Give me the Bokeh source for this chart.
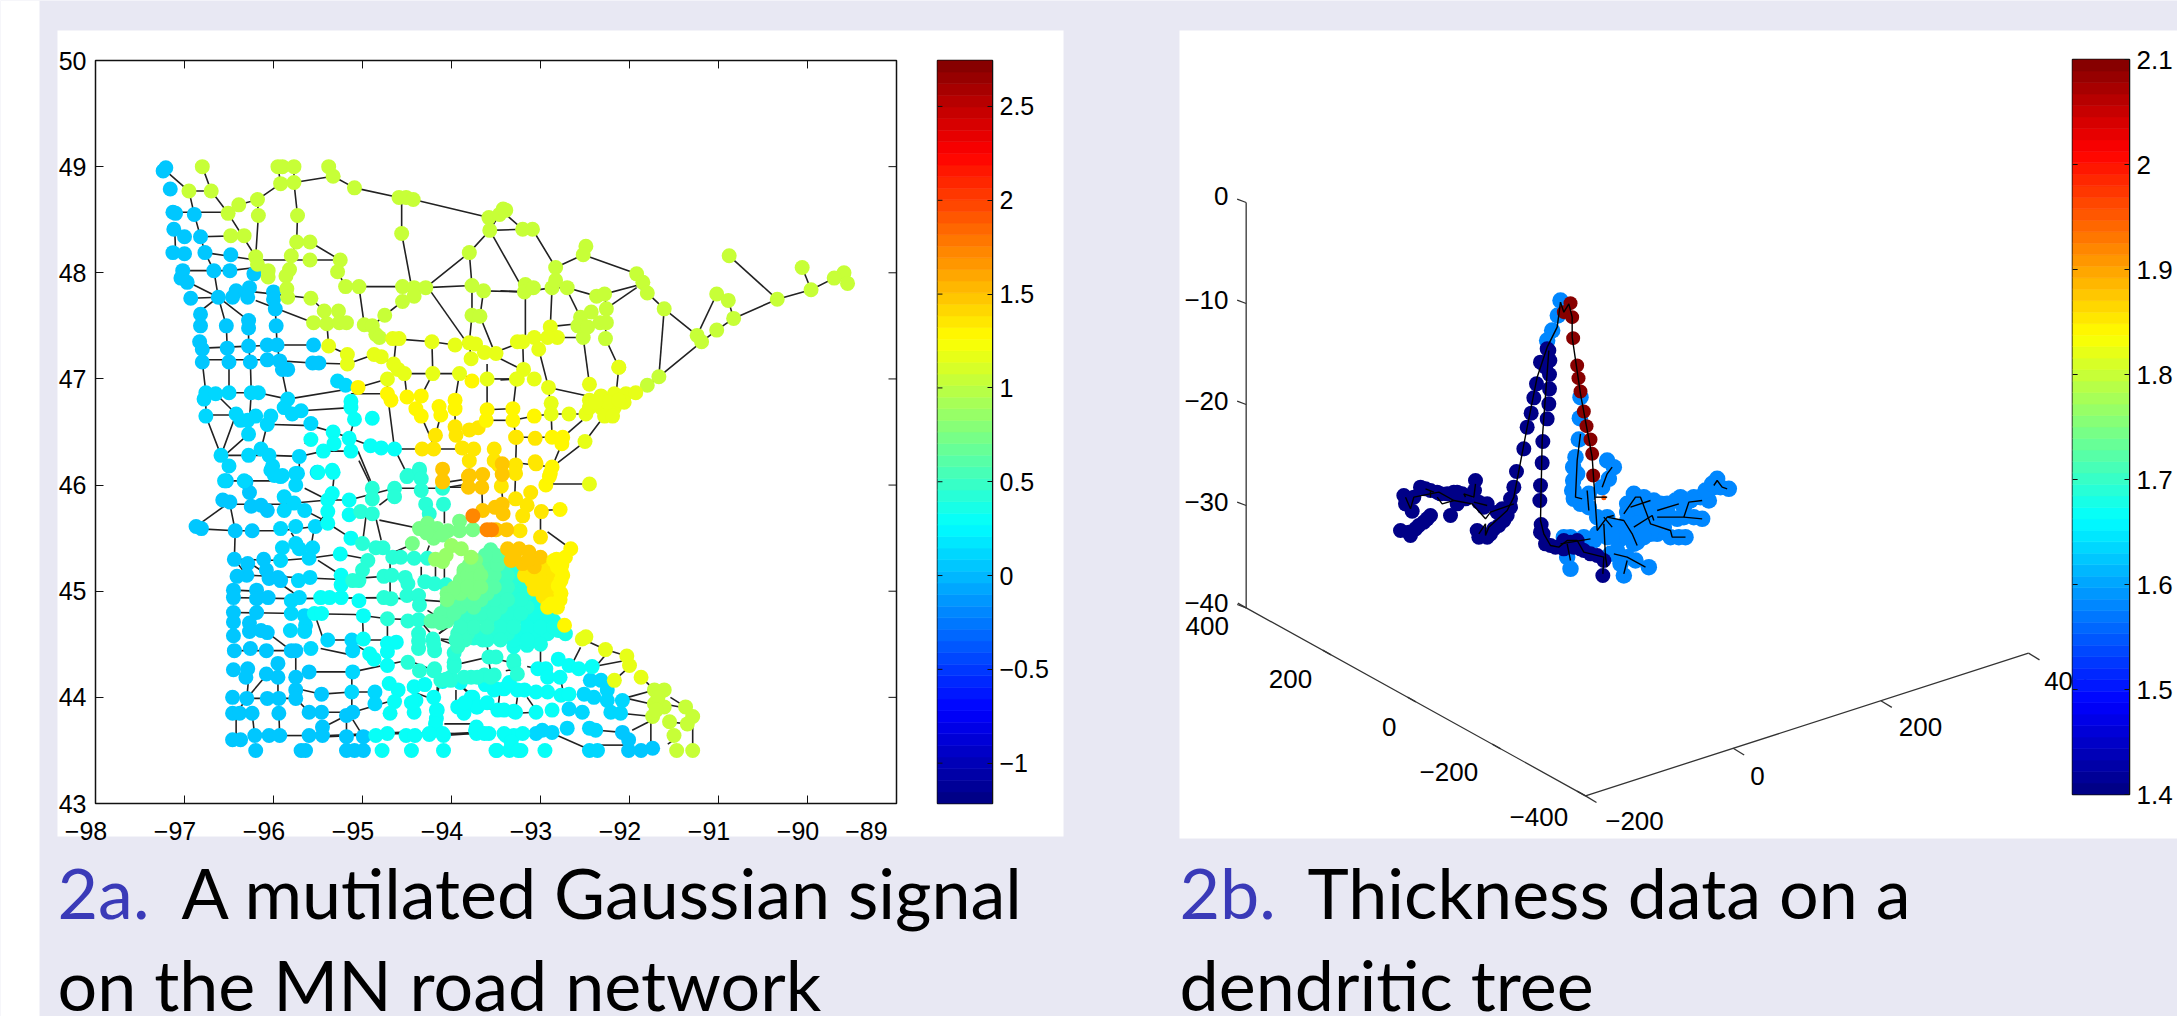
from bokeh.plotting import figure
from bokeh.embed import file_html
from bokeh.resources import INLINE
from bokeh.layouts import column
from bokeh.models import Range1d, FixedTicker
from bokeh.core.properties import value
import numpy as np

# ---------- panel a : tick labels and scales ----------
lon_ticks = [-98, -97, -96, -95, -94, -93, -92, -91, -90, -89]
lon_labels = ["−98", "−97", "−96", "−95", "−94", "−93", "−92", "−91", "−90", "−89"]
lat_ticks = [43, 44, 45, 46, 47, 48, 49, 50]
cb_a_ticks = [-1, -0.5, 0, 0.5, 1, 1.5, 2, 2.5]
cb_a_labels = ["−1", "−0.5", "0", "0.5", "1", "1.5", "2", "2.5"]
cb_a_low, cb_a_high = -1.215, 2.745

# ---------- panel a : nodes (lon, lat), grouped by signal value ----------
n_blue = [(-97.21,48.99),(-97.24,48.96),(-97.16,48.79),(-97.13,48.57),(-97.10,48.56),(-96.89,48.55),(-97.12,48.41),(-97.0,48.34),(-96.82,48.34),(-97.13,48.19),(-97.0,48.18),(-96.77,48.19),(-96.48,48.17),(-97.02,48.02),(-96.67,48.02),(-96.49,48.02),(-97.04,47.95),(-96.97,47.91),(-96.93,47.76),(-96.62,47.77),(-96.42,47.83),(-96.27,47.86),(-96.22,47.99),(-96.29,47.77),(-96.46,47.77),(-96.0,47.82),(-96.0,47.75),(-95.98,47.66),(-96.82,47.61),(-96.82,47.50),(-96.53,47.5),(-96.28,47.55),(-96.28,47.48),(-95.97,47.5),(-96.83,47.35),(-96.8,47.28),(-96.52,47.29),(-96.28,47.31),(-96.07,47.32),(-95.96,47.32),(-95.55,47.32),(-96.8,47.16),(-96.5,47.16),(-96.26,47.16),(-96.07,47.18),(-95.93,47.17),(-95.9,47.09),(-95.84,47.09),(-95.56,47.15),(-95.49,47.15),(-96.53,46.04),(-96.31,46.03),(-96.27,45.93),(-96.57,45.86),(-96.49,45.84),(-96.25,45.8),(-96.14,45.81),(-96.07,45.76),(-96.87,45.61),(-96.81,45.59),(-96.43,45.57),(-96.24,45.57),(-96.44,45.3),(-96.29,45.26),(-96.3,45.15),(-96.41,45.14),(-96.11,45.3),(-96.08,45.2),(-96.05,45.12),(-95.95,45.13),(-95.92,45.1),(-96.45,45.01),(-96.45,44.94),(-96.19,45.01),(-96.19,44.93),(-96.06,44.94),(-96.45,44.8),(-96.45,44.71),(-96.19,44.8),(-96.27,44.7),(-96.27,44.62),(-96.14,44.63),(-96.07,44.61),(-96.45,44.58),(-96.44,44.44),(-96.26,44.46),(-96.08,44.44),(-96.45,44.26),(-96.29,44.27),(-96.31,44.19),(-96.08,44.22),(-95.95,44.32),(-95.95,44.19),(-96.46,44.0),(-96.3,43.99),(-96.07,43.99),(-95.94,43.99),(-95.75,44.19),(-95.75,44.07),(-95.75,43.99),(-96.46,43.85),(-96.38,43.85),(-96.24,43.85),(-95.94,43.85),(-96.46,43.6),(-96.37,43.6),(-96.21,43.64),(-96.05,43.64),(-95.93,43.64),(-96.2,43.5),(-95.69,43.5),(-95.64,43.5),(-95.6,43.86),(-95.46,43.86),(-95.46,44.03),(-95.6,44.24),(-95.8,44.44),(-95.75,44.44),(-95.6,43.64),(-95.45,43.64),(-95.45,43.72),(-95.18,43.83),(-95.11,43.86),(-95.18,43.63),(-95.18,43.5),(-95.09,43.5),(-94.99,43.5),(-94.99,43.63),(-92.01,43.6),(-92.01,43.5),(-91.87,43.5),(-91.74,43.52),(-92.08,43.67)]
n_sky = [(-95.28,46.98),(-95.19,46.94),(-96.76,46.87),(-96.78,46.81),(-96.65,46.86),(-96.5,46.87),(-96.25,46.87),(-96.17,46.87),(-95.84,46.81),(-95.88,46.73),(-95.79,46.67),(-95.69,46.7),(-95.58,46.58),(-96.76,46.65),(-96.42,46.67),(-96.37,46.61),(-96.29,46.61),(-96.2,46.65),(-96.03,46.65),(-96.07,46.57),(-96.28,46.48),(-96.59,46.28),(-96.5,46.18),(-96.28,46.28),(-96.14,46.34),(-96.05,46.28),(-96.01,46.18),(-95.71,46.27),(-95.99,46.09),(-95.9,46.09),(-95.73,46.11),(-96.55,46.04),(-96.33,46.04),(-96.03,46.14),(-95.92,46.08),(-95.75,46.11),(-95.75,46.0),(-95.88,45.89),(-95.77,45.83),(-95.88,45.76),(-95.65,45.76),(-95.92,45.59),(-95.75,45.61),(-95.53,45.61),(-95.9,45.41),(-95.75,45.45),(-95.71,45.4),(-95.56,45.41),(-95.6,45.31),(-95.92,45.29),(-95.72,45.1),(-95.59,45.13),(-95.8,44.91),(-95.71,44.94),(-95.8,44.79),(-95.65,44.77),(-95.64,44.68),(-95.65,44.62),(-95.81,44.63),(-95.58,44.46),(-95.11,44.24),(-95.12,44.05),(-94.86,44.05),(-94.86,43.94),(-95.11,44.44),(-95.12,44.54),(-95.39,44.54),(-95.51,46.12),(-92.44,44.16),(-92.32,44.16),(-92.25,44.07),(-92.51,44.03),(-92.4,44.0),(-92.25,43.97),(-92.08,43.97),(-92.53,43.86),(-92.21,43.86),(-92.1,43.85),(-92.68,43.89),(-92.7,43.71),(-92.45,43.71),(-92.38,43.69),(-92.45,43.5),(-92.36,43.5),(-93.05,43.66),(-92.98,43.69),(-92.87,43.67)]
n_cyan = [(-95.13,46.79),(-95.13,46.73),(-95.09,46.62),(-94.89,46.63),(-95.33,46.5),(-95.58,46.43),(-95.32,46.39),(-95.44,46.32),(-95.13,46.32),(-95.15,46.44),(-94.91,46.37),(-94.79,46.35),(-94.64,46.34),(-95.5,46.12),(-95.33,46.12),(-95.34,46.14),(-95.39,45.86),(-95.34,45.92),(-95.39,45.75),(-95.39,45.64),(-95.15,45.86),(-95.15,45.72),(-95.13,45.5),(-95.47,44.94),(-95.37,44.94),(-95.24,44.94),(-95.54,44.79),(-95.46,44.79),(-95.25,45.35),(-95.24,45.15),(-95.24,45.06),(-94.99,44.77),(-95.04,44.91),(-94.99,44.55),(-94.92,44.41),(-94.87,44.36),(-94.72,44.51),(-94.62,44.52),(-94.72,44.43),(-94.72,44.3),(-94.7,44.13),(-94.6,44.07),(-94.64,43.96),(-94.69,43.85),(-94.42,44.1),(-94.4,43.97),(-94.42,43.86),(-94.17,43.88),(-94.17,43.8),(-94.72,43.66),(-94.85,43.64),(-94.51,43.64),(-94.41,43.64),(-94.25,43.65),(-94.09,43.64),(-94.78,43.5),(-94.45,43.5),(-94.09,43.5),(-93.72,43.91),(-93.93,43.91),(-93.72,43.72),(-93.72,43.66),(-93.58,43.66),(-93.48,43.88),(-93.3,43.87),(-93.39,43.64),(-93.3,43.64),(-93.49,43.5),(-93.35,43.5),(-93.22,43.5),(-93.78,44.0),(-93.5,44.08),(-93.41,44.08),(-93.26,44.07),(-93.03,44.27),(-92.94,44.27),(-92.92,44.19),(-92.8,44.36),(-92.78,44.19),(-92.68,44.3),(-92.57,44.27),(-92.42,44.29),(-92.92,44.05),(-92.77,44.02),(-92.68,44.03),(-93.05,44.05),(-93.52,44.07),(-93.18,44.07),(-93.41,43.88),(-93.28,43.86),(-93.05,43.86),(-92.87,43.88),(-93.41,43.66),(-93.2,43.66),(-93.33,43.58),(-93.5,43.5),(-93.25,43.5),(-92.95,43.5),(-93.76,44.0),(-93.71,43.91),(-93.86,43.85),(-94.16,43.88),(-94.18,43.75),(-94.1,43.66),(-94.25,43.66),(-93.73,43.69),(-93.63,43.66),(-94.3,44.12),(-94.1,44.15),(-93.9,44.14),(-93.62,44.12),(-93.35,44.14),(-94.45,43.95),(-93.85,43.95),(-93.6,43.95),(-94.2,44.0)]
n_teal = [(-94.49,46.09),(-94.36,46.14),(-94.89,45.97),(-94.89,45.87),(-94.64,45.97),(-94.64,45.89),(-94.5,46.08),(-94.36,46.15),(-94.34,46.06),(-94.34,45.95),(-94.29,45.82),(-94.25,45.73),(-94.09,45.82),(-94.1,45.97),(-95.02,45.75),(-94.89,45.73),(-95.0,45.45),(-94.85,45.41),(-94.77,45.41),(-94.66,45.32),(-94.57,45.32),(-94.94,45.29),(-95.0,45.2),(-95.04,45.1),(-95.11,45.1),(-94.76,45.14),(-94.67,45.15),(-94.52,45.13),(-94.49,45.07),(-94.5,44.96),(-94.37,44.96),(-94.36,44.87),(-94.76,44.94),(-94.68,44.93),(-94.72,44.74),(-94.49,44.72),(-94.37,44.73),(-94.37,44.6),(-94.37,44.46),(-94.21,44.55),(-94.19,44.44),(-94.3,45.09),(-94.19,45.07),(-94.06,45.06),(-94.49,44.33),(-94.36,44.25),(-94.19,44.27),(-94.12,44.16),(-94.01,44.16),(-93.97,44.33),(-93.78,44.19),(-93.63,44.21),(-93.52,44.21),(-93.58,44.38),(-93.3,44.32),(-94.42,45.31),(-94.27,45.31),(-93.5,44.38),(-93.3,44.35),(-93.26,44.22),(-94.01,44.19),(-93.86,44.19),(-93.71,44.19),(-93.56,44.19),(-94.2,44.25),(-93.97,44.29),(-93.97,44.42),(-94.37,44.53),(-94.2,44.5),(-94.06,44.17),(-93.75,44.56),(-93.65,44.54)]
n_green = [(-94.36,45.59),(-94.27,45.64),(-94.16,45.59),(-94.2,45.5),(-94.44,45.45),(-93.91,45.66),(-93.91,45.57),(-93.76,45.58),(-94.04,45.57),(-93.86,45.17),(-93.89,45.04),(-94.0,44.98),(-93.73,45.29),(-93.86,45.2),(-93.71,45.2),(-93.9,45.1),(-93.75,45.1),(-94.05,44.98),(-93.9,44.98),(-93.75,44.98),(-93.82,45.15),(-93.67,45.15),(-93.97,45.03),(-93.82,45.04),(-93.67,45.04),(-94.28,45.55),(-94.1,45.53),(-93.8,45.25),(-94.05,44.92)]
n_lgreen = [(-94.1,45.28),(-94.0,45.43),(-93.89,45.4),(-93.78,45.32),(-94.18,45.3),(-94.06,45.34)]
n_blob60 = [(-93.56,45.39),(-93.56,45.29),(-93.45,45.29),(-93.56,45.2),(-93.6,45.1),(-93.6,44.98),(-94.05,44.85),(-93.9,44.85),(-93.75,44.85),(-94.2,44.72),(-94.05,44.72),(-93.97,44.92),(-93.82,44.92),(-93.67,44.92),(-94.12,44.79),(-93.97,44.79),(-93.52,45.15),(-93.52,45.04),(-93.66,45.25),(-93.48,45.25),(-93.5,45.34),(-93.62,45.34),(-94.23,44.72),(-94.12,44.7)]
n_blob50 = [(-93.41,45.2),(-93.45,45.1),(-93.45,44.98),(-93.6,44.85),(-93.45,44.85),(-93.9,44.72),(-93.75,44.72),(-93.6,44.72),(-93.82,44.6),(-93.93,44.48),(-93.93,44.6),(-93.52,44.92),(-93.82,44.79),(-93.67,44.79),(-93.52,44.79),(-93.37,45.15),(-93.37,45.04),(-93.37,44.92),(-93.85,44.54),(-93.75,44.66),(-93.6,44.66),(-93.9,44.66),(-93.95,44.54)]
n_blob42 = [(-93.3,45.17),(-93.3,45.07),(-93.18,45.04),(-93.3,44.98),(-93.15,44.98),(-93.3,44.85),(-93.15,44.85),(-93.45,44.72),(-93.3,44.72),(-93.67,44.6),(-93.52,44.6),(-93.37,44.6),(-93.22,44.92),(-93.37,44.79),(-93.22,44.79),(-93.45,44.66),(-93.3,44.66),(-93.6,44.54),(-93.45,44.54)]
n_blob34 = [(-93.0,44.85),(-93.15,44.72),(-93.0,44.72),(-92.85,44.72),(-93.22,44.6),(-93.07,44.6),(-92.92,44.6),(-92.8,44.63),(-93.3,44.48),(-93.15,44.49),(-93.0,44.5),(-93.07,44.79),(-92.92,44.79),(-93.15,44.66),(-93.0,44.66),(-93.3,44.54),(-93.15,44.54),(-93.07,44.92),(-92.85,44.66),(-92.72,44.6)]
n_lime = [(-96.8,49.0),(-96.95,48.77),(-96.7,48.77),(-96.51,48.56),(-96.39,48.64),(-96.18,48.69),(-96.17,48.54),(-95.95,49.0),(-95.92,48.84),(-95.9,49.0),(-95.77,49.0),(-95.77,48.85),(-95.73,48.54),(-95.38,49.0),(-95.33,48.91),(-95.09,48.8),(-94.59,48.71),(-94.51,48.71),(-94.43,48.69),(-94.56,48.37),(-96.48,48.35),(-96.33,48.35),(-95.74,48.29),(-95.59,48.29),(-96.2,48.15),(-96.18,48.08),(-95.8,48.16),(-95.59,48.12),(-95.25,48.12),(-95.28,48.01),(-95.82,48.03),(-95.86,47.97),(-96.06,48.02),(-96.06,47.96),(-95.85,47.85),(-95.84,47.77),(-95.58,47.76),(-95.19,47.87),(-95.04,47.87),(-94.55,47.87),(-94.42,47.86),(-94.29,47.86),(-94.42,47.78),(-94.55,47.73),(-94.75,47.6),(-93.77,47.88),(-93.64,47.83),(-93.77,47.6),(-93.68,47.59),(-93.8,48.19),(-93.58,48.52),(-93.57,48.4),(-93.39,48.59),(-93.46,48.55),(-93.42,48.6),(-93.2,48.41),(-93.09,48.41),(-95.43,47.64),(-95.27,47.64),(-95.55,47.53),(-95.4,47.52),(-95.26,47.53),(-95.18,47.53),(-94.98,47.51),(-94.89,47.5),(-94.85,47.42),(-94.81,47.39),(-92.83,48.05),(-92.49,48.25),(-92.52,48.17),(-91.92,47.99),(-91.85,47.91),(-91.8,47.81),(-91.61,47.66),(-90.88,48.16),(-90.06,48.05),(-89.59,48.0),(-89.7,47.95),(-89.55,47.9),(-89.96,47.84),(-90.34,47.75),(-91.02,47.8),(-90.89,47.74),(-90.83,47.57),(-91.02,47.46),(-91.24,47.41),(-91.19,47.35),(-91.67,47.02),(-91.8,46.94),(-93.17,47.89),(-93.18,47.82),(-93.08,47.86),(-92.87,47.86),(-92.83,47.93),(-92.7,47.86),(-92.37,47.78),(-92.28,47.8),(-92.26,47.66),(-92.43,47.63),(-92.55,47.58),(-92.33,47.53),(-92.26,47.53),(-92.27,47.38),(-92.52,47.39),(-92.58,47.5),(-92.47,47.49),(-92.12,47.11),(-91.72,44.07),(-91.61,44.07),(-91.72,43.94),(-91.61,43.91),(-91.74,43.82),(-91.55,43.77),(-91.37,43.91),(-91.29,43.82),(-91.35,43.75),(-91.5,43.64),(-91.47,43.5),(-91.29,43.5),(-91.68,44.0),(-91.7,43.88)]
n_ylime = [(-94.66,47.38),(-94.59,47.38),(-94.22,47.35),(-93.96,47.32),(-93.8,47.34),(-93.73,47.33),(-95.38,47.31),(-95.17,47.23),(-95.17,47.14),(-94.87,47.23),(-94.79,47.21),(-94.65,47.14),(-94.6,47.09),(-94.53,47.05),(-94.72,47.0),(-94.21,47.05),(-93.91,47.05),(-93.6,47.0),(-93.63,47.25),(-93.5,47.24),(-93.78,47.19),(-93.26,47.35),(-93.26,47.0),(-92.89,47.49),(-92.81,47.39),(-92.92,47.39),(-93.07,47.39),(-93.2,47.35),(-93.02,47.28),(-93.19,47.09),(-93.27,47.0),(-93.07,47.0),(-92.91,46.92),(-92.45,46.95),(-92.12,47.11),(-92.88,46.77),(-92.88,46.67),(-92.68,46.67),(-92.49,46.67),(-92.45,46.8),(-92.32,46.84),(-92.17,46.86),(-92.04,46.86),(-91.93,46.87),(-92.32,46.73),(-92.17,46.73),(-92.06,46.78),(-92.28,46.65),(-92.19,46.65),(-92.45,46.73),(-92.25,46.78),(-92.38,46.78),(-92.12,46.8),(-92.5,46.41),(-92.53,44.55),(-92.49,44.57),(-92.27,44.45),(-92.03,44.39),(-92.0,44.3),(-92.17,44.16),(-91.87,44.19),(-92.45,46.01)]
n_yellow = [(-95.05,46.92),(-93.77,46.98),(-94.72,46.86),(-94.68,46.8),(-94.5,46.83),(-94.34,46.84),(-94.4,46.72),(-94.34,46.65),(-93.96,46.8),(-93.96,46.72),(-94.14,46.74),(-94.12,46.66),(-93.6,46.71),(-93.31,46.72),(-93.31,46.61),(-93.61,46.61),(-93.07,46.65),(-92.87,46.45),(-92.75,46.45),(-92.76,46.39),(-92.87,46.17),(-92.89,46.11),(-92.94,46.0),(-92.9,46.08),(-92.66,45.4),(-92.72,45.32),(-92.78,45.77),(-92.77,45.2),(-92.77,45.1),(-92.77,44.98),(-92.81,44.85),(-92.92,44.85),(-92.85,45.29),(-92.81,45.23),(-92.73,44.68),(-92.8,45.05),(-92.75,45.15),(-92.78,44.92),(-92.88,44.88),(-92.82,45.3),(-92.76,45.25)]
n_gold = [(-93.96,46.55),(-93.95,46.47),(-93.8,46.52),(-93.7,46.54),(-94.18,46.47),(-93.28,46.45),(-94.33,46.34),(-94.2,46.34),(-93.88,46.35),(-93.75,46.34),(-93.8,46.23),(-93.52,46.34),(-93.52,46.23),(-93.27,46.45),(-93.06,46.44),(-93.06,46.22),(-93.47,46.19),(-93.43,46.11),(-93.44,45.99),(-93.28,46.19),(-93.28,46.11),(-93.05,46.2),(-93.11,45.93),(-93.28,45.87),(-93.15,45.81),(-93.2,45.71),(-92.99,45.75),(-93.0,45.51),(-93.23,45.57),(-93.18,45.15),(-93.03,45.15),(-92.9,45.12),(-93.07,45.02),(-92.92,45.01),(-92.92,45.2),(-93.0,45.08),(-92.85,45.05),(-92.86,44.93),(-93.15,45.22),(-93.0,45.22),(-92.88,45.25),(-93.1,45.1),(-92.97,44.95),(-92.85,45.15)]
n_orange = [(-93.43,46.2),(-93.43,46.1),(-93.65,46.1),(-94.1,46.15),(-93.8,46.09),(-94.1,46.04),(-94.1,46.03),(-93.81,46.08),(-93.81,45.98),(-93.66,45.98),(-93.65,45.76),(-93.51,45.79),(-93.43,45.82),(-93.42,45.73),(-93.5,45.58),(-93.38,45.58),(-93.37,45.4),(-93.24,45.4),(-93.13,45.37),(-93.0,45.32),(-93.33,45.29),(-93.2,45.26),(-93.07,45.23),(-93.3,45.34),(-93.13,45.3)]
n_dorange = [(-93.76,45.71),(-93.6,45.58),(-93.55,45.58)]
node_groups = [(0.05, n_blue), (0.14, n_sky), (0.27, n_cyan), (0.42, n_teal), (0.34, n_blob34), (0.42, n_blob42), (0.5, n_blob50), (0.6, n_blob60), (0.72, n_green), (0.88, n_lgreen), (1.04, n_lime), (1.14, n_ylime), (1.36, n_gold), (1.5, n_orange), (1.72, n_dorange), (1.26, n_yellow)]

# ---------- panel a : roads, as (lon, lat) polylines ----------
roads_north = [
 [(-97.21,48.96),(-96.95,48.77),(-96.7,48.77)], [(-96.8,49.0),(-96.7,48.77),(-96.51,48.56),(-96.2,48.15)],
 [(-96.95,48.77),(-96.89,48.55),(-96.82,48.34),(-96.77,48.19),(-96.67,48.02),(-96.62,47.77),(-96.53,47.5),(-96.52,47.29),(-96.5,47.16),(-96.5,46.87)],
 [(-97.1,48.57),(-96.51,48.57)], [(-97.11,48.41),(-97.1,48.19)], [(-96.82,48.34),(-96.33,48.35)],
 [(-96.51,48.56),(-96.39,48.64),(-96.18,48.69),(-95.92,48.84),(-95.77,48.85),(-95.33,48.91),(-95.09,48.8),(-94.59,48.71),(-94.43,48.69),(-93.58,48.52)],
 [(-93.39,48.55),(-93.2,48.41)], [(-96.18,48.69),(-96.17,48.54),(-96.2,48.15)], [(-95.95,49.0),(-95.92,48.84)],
 [(-95.77,49.0),(-95.77,48.85),(-95.73,48.54),(-95.74,48.29),(-95.8,48.16),(-95.86,47.97),(-95.85,47.85)],
 [(-95.59,48.29),(-95.25,48.12),(-95.28,48.01),(-95.19,47.87),(-95.04,47.87),(-94.55,47.87),(-94.29,47.86),(-93.77,47.88),(-93.64,47.83),(-93.18,47.82)],
 [(-96.2,48.12),(-95.25,48.12)], [(-94.56,48.71),(-94.56,48.37),(-94.46,47.92)],
 [(-94.29,47.86),(-93.8,48.19),(-93.57,48.4),(-93.46,48.55)], [(-93.57,48.4),(-93.2,48.41)],
 [(-93.8,48.19),(-93.77,47.88),(-93.77,47.6),(-93.8,47.34),(-93.78,47.19)], [(-93.57,48.4),(-93.18,47.82)],
 [(-94.23,47.82),(-93.86,47.38)], [(-93.64,47.83),(-93.68,47.59),(-93.54,47.3)], [(-95.04,47.87),(-94.98,47.51)],
 [(-94.42,47.78),(-94.55,47.73),(-94.75,47.6),(-94.89,47.5)], [(-96.77,48.19),(-96.2,48.12)], [(-97.02,48.02),(-96.49,48.02),(-96.2,48.05)],
 [(-97.0,47.93),(-96.62,47.77),(-96.93,47.76)], [(-96.82,47.64),(-96.62,47.77)], [(-96.22,47.82),(-95.58,47.76),(-95.43,47.64),(-95.4,47.52),(-95.38,47.31)],
 [(-96.2,47.74),(-95.55,47.53),(-95.26,47.53)], [(-96.62,47.77),(-96.28,47.55),(-96.28,47.31),(-96.26,47.16),(-96.25,46.87),(-96.28,46.48),(-96.59,46.25)],
 [(-96.0,47.75),(-95.98,47.66),(-95.97,47.5),(-95.96,47.32),(-95.93,47.17),(-95.84,46.81)], [(-96.8,47.29),(-95.96,47.32),(-95.55,47.32)],
 [(-96.8,47.18),(-96.07,47.18)], [(-95.93,47.17),(-95.56,47.15),(-95.17,47.14),(-94.87,47.23)],
 [(-96.8,47.16),(-96.76,46.87),(-96.76,46.65),(-96.59,46.28),(-96.42,46.67)], [(-96.5,46.87),(-96.25,46.87)],
 [(-96.17,46.87),(-95.84,46.81),(-95.05,46.92),(-94.72,47.0)], [(-96.76,46.66),(-96.42,46.66)], [(-96.65,46.86),(-96.42,46.67)],
 [(-95.69,46.7),(-95.13,46.73)], [(-96.01,46.57),(-95.58,46.56),(-95.33,46.5),(-94.91,46.37),(-94.64,46.34),(-94.33,46.34),(-93.75,46.34)],
 [(-96.07,46.57),(-96.14,46.34)], [(-96.59,46.28),(-96.14,46.28)], [(-96.05,46.28),(-95.71,46.27),(-95.44,46.32),(-95.13,46.32)],
 [(-95.13,46.86),(-94.72,46.86)], [(-95.13,46.73),(-95.09,46.62),(-95.15,46.44)], [(-95.65,46.39),(-95.58,46.43)], [(-95.71,46.27),(-95.71,46.12)],
 [(-95.38,47.31),(-95.17,47.23)], [(-94.87,47.23),(-94.65,47.14)], [(-94.66,47.38),(-94.22,47.35),(-93.96,47.32),(-93.8,47.34)],
 [(-94.62,47.38),(-94.65,47.14)], [(-94.22,47.35),(-94.21,47.05)], [(-94.53,47.05),(-94.21,47.05),(-93.91,47.05),(-93.77,47.0)], [(-93.6,47.0),(-93.26,47.0)],
 [(-94.72,47.0),(-94.72,46.86),(-94.64,46.34),(-94.49,46.09)], [(-94.53,47.05),(-94.5,46.83)], [(-94.21,47.05),(-94.34,46.84)],
 [(-93.91,47.05),(-93.96,46.8),(-93.96,46.55)], [(-93.6,47.14),(-93.6,46.71)], [(-94.34,46.65),(-94.18,46.34)], [(-94.12,46.66),(-94.18,46.47)],
 [(-93.61,46.71),(-93.31,46.72)], [(-93.61,46.61),(-93.31,46.61)], [(-95.05,46.32),(-94.91,46.04)],
]
roads_east = [
 [(-93.09,48.41),(-92.83,48.05),(-92.52,48.17),(-91.92,47.99)], [(-92.83,48.05),(-92.87,47.86),(-92.89,47.49)],
 [(-93.45,47.83),(-93.17,47.82),(-92.87,47.86),(-92.7,47.86),(-92.37,47.78),(-91.92,47.88),(-91.8,47.81),(-91.61,47.66),(-91.24,47.41),(-91.19,47.35),(-91.67,47.02),(-91.8,46.94),(-91.93,46.87)],
 [(-93.17,47.82),(-93.17,47.39)], [(-92.68,47.8),(-92.55,47.58)], [(-92.25,47.67),(-91.92,47.86)],
 [(-92.28,47.8),(-92.26,47.66),(-92.27,47.38),(-92.12,47.11),(-92.15,46.86)], [(-91.61,47.66),(-91.67,47.02)], [(-91.24,47.41),(-91.02,47.8)],
 [(-91.19,47.35),(-91.02,47.46),(-90.83,47.57),(-90.34,47.75),(-89.96,47.84),(-89.7,47.95)], [(-90.83,47.57),(-90.89,47.74)], [(-90.34,47.75),(-90.88,48.16)], [(-89.96,47.84),(-90.06,48.05)],
 [(-92.92,47.49),(-92.58,47.52)], [(-92.92,47.39),(-92.52,47.39)], [(-92.52,47.39),(-92.45,46.95)], [(-93.02,47.28),(-92.91,46.92),(-92.47,46.84)],
 [(-93.2,47.35),(-93.45,47.27)], [(-93.2,47.35),(-93.19,47.09)], [(-93.45,47.19),(-93.26,47.11)], [(-93.27,47.0),(-93.31,46.71),(-93.31,46.61),(-93.27,46.45),(-93.28,46.18)],
 [(-93.45,46.99),(-93.27,47.0)], [(-92.91,46.92),(-92.88,46.67),(-92.87,46.45),(-92.76,46.39),(-92.87,46.17)],
 [(-93.31,46.61),(-93.07,46.65),(-92.88,46.67),(-92.68,46.67),(-92.49,46.67)], [(-93.27,46.45),(-92.87,46.45)], [(-92.75,46.45),(-92.53,46.61)],
 [(-92.87,46.17),(-92.5,46.41),(-92.32,46.61)], [(-93.28,46.21),(-92.87,46.17)],
]
roads_southwest = [
 [(-96.49,45.84),(-96.87,45.61)], [(-96.87,45.59),(-96.43,45.57),(-96.24,45.57),(-95.92,45.57),(-95.53,45.61),(-95.39,45.75)],
 [(-96.49,45.82),(-96.43,45.57),(-96.44,45.3),(-96.3,45.15)], [(-96.49,45.82),(-95.92,45.82),(-95.39,45.86),(-95.15,45.86),(-94.64,45.97),(-94.1,45.97),(-93.82,46.01)],
 [(-96.53,46.04),(-96.03,46.04)], [(-95.65,45.97),(-95.39,45.86)], [(-95.62,45.75),(-95.39,45.65)], [(-95.04,46.23),(-94.89,45.97)],
 [(-94.81,45.67),(-94.36,45.59)], [(-94.87,45.76),(-94.79,45.48)], [(-94.96,45.71),(-95.0,45.45)], [(-95.54,45.61),(-95.58,45.41)], [(-95.8,45.55),(-95.71,45.43)],
 [(-95.32,46.08),(-95.34,45.92)], [(-95.39,45.64),(-95.13,45.5)], [(-96.44,45.3),(-95.92,45.29),(-95.6,45.31),(-95.25,45.35),(-95.0,45.31)], [(-95.5,45.29),(-95.24,45.15)],
 [(-96.22,45.24),(-95.8,45.0),(-95.72,44.94)], [(-96.27,45.15),(-95.24,45.11),(-94.76,45.14)], [(-96.45,45.01),(-96.18,45.0)], [(-96.45,44.94),(-95.8,44.93),(-94.72,44.94),(-94.04,44.9)],
 [(-96.45,44.8),(-95.09,44.78),(-94.72,44.74),(-94.36,44.73)], [(-96.02,44.58),(-95.8,44.44)], [(-96.45,44.44),(-95.77,44.44)], [(-95.52,44.74),(-95.45,44.57)],
 [(-95.47,44.46),(-95.13,44.4)], [(-95.39,44.54),(-94.64,44.54)], [(-95.13,44.52),(-94.85,44.38)], [(-95.0,44.76),(-94.99,44.55)], [(-94.72,44.74),(-94.72,44.29)],
 [(-95.75,44.44),(-95.75,43.99)], [(-95.95,44.19),(-95.95,43.99)], [(-96.27,44.27),(-96.3,43.99),(-96.42,43.85)], [(-96.1,44.19),(-96.3,43.99)], [(-96.3,43.99),(-95.75,43.99)],
 [(-95.67,44.07),(-95.46,44.03),(-95.12,44.05),(-94.86,44.05)], [(-95.75,43.99),(-95.6,43.86),(-95.46,43.86),(-95.11,43.86),(-94.7,43.96)], [(-96.42,43.85),(-96.42,43.63)],
 [(-96.24,43.85),(-96.21,43.63)], [(-95.94,43.85),(-95.93,43.64)], [(-95.93,43.64),(-95.6,43.64)], [(-95.39,43.74),(-95.11,43.86)], [(-95.18,43.83),(-95.18,43.63)], [(-95.11,43.79),(-94.99,43.63)],
 [(-95.39,43.63),(-94.57,43.66),(-94.08,43.64),(-93.74,43.66)], [(-95.39,43.64),(-94.57,43.67),(-94.08,43.65),(-93.74,43.67)], [(-94.08,43.75),(-93.72,43.75)],
 [(-95.6,44.24),(-95.11,44.24),(-94.49,44.35)], [(-95.12,44.22),(-95.12,43.85)], [(-94.19,44.25),(-94.49,44.35)], [(-93.89,44.32),(-93.58,44.38),(-93.3,44.32)],
 [(-94.12,44.54),(-93.89,44.47)], [(-94.16,44.1),(-94.17,43.88)], [(-93.95,44.07),(-93.95,43.91)], [(-93.89,44.1),(-93.72,43.97)], [(-93.93,43.91),(-93.5,43.89)], [(-93.45,44.1),(-93.48,43.88)],
 [(-94.34,45.23),(-94.34,45.13)], [(-94.18,45.23),(-94.18,45.13)], [(-94.08,45.23),(-94.08,45.07)], [(-94.69,45.26),(-94.69,44.98)], [(-94.25,45.43),(-94.31,45.29)], [(-94.64,45.37),(-94.42,45.45)],
 [(-94.81,45.81),(-94.64,45.92)], [(-94.08,45.79),(-94.08,45.64)], [(-94.14,44.6),(-94.04,44.66)], [(-94.27,44.82),(-94.16,44.76)], [(-94.36,44.73),(-94.23,44.6)], [(-94.27,44.0),(-94.49,44.07)],
]
roads_southeast = [
 [(-94.03,46.03),(-93.81,46.06)], [(-94.1,45.98),(-93.66,45.98)], [(-92.87,46.01),(-92.45,46.01)], [(-92.92,45.56),(-92.66,45.4)], [(-92.9,45.32),(-92.72,45.37)], [(-93.0,45.75),(-93.0,45.51)],
 [(-92.99,45.76),(-92.78,45.77)], [(-93.28,46.11),(-93.29,45.87)], [(-93.66,45.98),(-93.65,45.76)], [(-93.44,45.99),(-93.42,45.82)], [(-92.85,44.41),(-92.8,44.36)], [(-93.0,44.5),(-93.0,44.29)],
 [(-92.53,44.55),(-92.27,44.45),(-92.03,44.39)], [(-92.55,44.47),(-92.66,44.29)], [(-92.36,44.31),(-92.27,44.4)], [(-92.34,44.3),(-92.03,44.35)], [(-92.17,44.16),(-92.0,44.29)], [(-91.87,44.19),(-91.72,44.07)],
 [(-92.02,44.0),(-91.72,44.07)], [(-92.08,44.0),(-91.72,43.93)], [(-92.1,43.85),(-91.74,43.82)], [(-91.54,44.0),(-91.37,43.91)], [(-91.57,43.93),(-91.37,43.9)], [(-91.57,43.77),(-91.35,43.75)],
 [(-91.29,43.82),(-91.29,43.5)], [(-91.76,43.82),(-91.76,43.52)], [(-91.57,43.56),(-91.5,43.6)], [(-91.97,43.69),(-91.76,43.78)], [(-92.08,43.67),(-92.36,43.69)], [(-92.81,43.64),(-92.51,43.53)],
 [(-92.36,43.55),(-92.01,43.55)], [(-94.08,43.66),(-93.8,43.66)], [(-93.15,44.29),(-93.03,44.27)], [(-94.2,43.9),(-94.14,44.1)], [(-93.88,44.1),(-93.78,44.03)], [(-93.15,44.0),(-93.05,43.88)],
 [(-93.26,44.0),(-93.28,43.88)], [(-93.28,43.85),(-93.05,43.86)], [(-92.77,44.16),(-92.75,44.07)], [(-92.68,43.89),(-92.53,43.86)], [(-94.14,44.6),(-94.03,44.68)], [(-94.12,44.55),(-93.97,44.54)],
 [(-93.6,44.49),(-93.59,44.43)], [(-93.58,44.33),(-93.56,44.25)], [(-93.39,44.25),(-93.26,44.27)],
]
roads = roads_north + roads_east + roads_southwest + roads_southeast

# ---------- panel b : dendrite, in projected view coordinates (u, w) ----------
d_sky = [(630,90),(622,135),(605,180),(590,210),(690,380),(688,443),(685,507),(675,560),(668,630),(670,685),(715,670),(715,710),(770,570),(790,590),(775,625),(755,650),(740,740),(740,790),(720,810),(770,740),(820,770),(850,820),(850,670),(880,680),(830,700),(910,690),(990,680),(1050,680),(1075,690),(1100,625),(1135,655),(830,750),(870,740),(910,740),(950,740),(1000,740),(1055,745),(880,780),(920,790),(960,800),(1005,800),(770,800),(810,805),(860,815),(850,720),(900,720),(950,720),(1000,710),(660,800),(640,800),(650,860),(660,895),(780,850),(830,860),(895,890),(820,915),(810,880),(730,810),(700,800),(668,590),(665,660),(690,700),(870,690),(950,700),(1020,690),(795,770),(845,795),(940,770),(985,800),(1090,650),(1110,650),(855,870),(800,840),(830,725),(870,715),(930,700),(975,690),(1030,680),(1065,660),(1085,640),(880,760),(900,790),(910,770),(860,760),(1030,740),(980,745),(760,770),(790,800),(830,800),(880,800),(680,610),(670,660)]
d_navy = [(590,235),(570,275),(585,290),(558,340),(550,382),(542,428),(530,470),(520,535),(498,603),(490,650),(480,685),(595,240),(598,270),(597,312),(597,355),(595,400),(590,445),(577,513),(575,577),(570,645),(568,690),(572,762),(578,790),(160,675),(165,700),(185,722),(225,655),(260,665),(290,670),(335,670),(375,630),(372,660),(385,695),(410,700),(345,685),(320,700),(300,735),(240,735),(220,755),(195,775),(180,795),(150,780),(380,780),(385,800),(410,800),(420,790),(445,765),(470,735),(440,725),(585,820),(615,830),(640,810),(680,810),(700,840),(740,855),(760,870),(757,915),(210,650),(240,660),(310,665),(190,680),(460,750),(600,825),(660,815),(720,850),(175,785),(205,765),(230,745),(270,670),(320,665),(395,790),(430,775),(400,710),(455,715),(480,710),(640,835),(670,830),(690,835),(570,785)]
d_maroon = [(660,98),(640,125),(665,140),(668,203),(680,285),(684,323),(690,363),(700,423),(708,467),(720,507),(725,550),(728,615)]
d_orange = [(760,682)]
dendrite_groups = [(1.585, d_sky, 16.5), (1.4, d_navy, 15), (2.1, d_maroon, 14), (1.95, d_orange, 5)]
branches = [
 [(630,95),(620,170),(590,230),(560,320),(530,470),(490,680),(470,720),(415,770),(405,795),(405,760),(385,790)],
 [(490,700),(420,725),(405,745),(365,700),(310,690),(265,665),(190,680),(180,715),(165,680)],
 [(375,640),(370,680),(340,670),(345,680)], [(260,680),(275,700),(310,690)], [(240,660),(240,680)], [(225,655),(250,665)], [(370,695),(410,705)],
 [(595,240),(575,510),(570,750),(580,790),(600,825),(625,830),(650,810),(680,810),(700,845),(760,860),(757,910)],
 [(650,820),(660,870)], [(630,820),(720,805)],
 [(630,95),(640,125),(655,100),(665,140),(665,200),(690,370),(725,560),(740,780)],
 [(690,490),(680,570),(675,680),(695,685)], [(710,660),(715,720)], [(735,680),(770,680)], [(785,590),(770,610),(755,650)],
 [(740,780),(770,740),(790,735)], [(760,740),(785,770)], [(760,760),(765,860),(770,890)], [(790,850),(830,860),(885,890)], [(820,910),(830,870)],
 [(770,740),(820,750),(845,790),(860,825)], [(820,730),(855,680),(870,680),(900,760),(960,780),(965,800),(1005,800)], [(840,710),(900,690)],
 [(850,770),(905,735),(910,750)], [(920,720),(985,700)], [(920,740),(1000,740),(1015,695),(1055,690)], [(1000,740),(1055,745)], [(1090,645),(1100,630),(1115,650),(1130,655)],
]
z_ticks_w = [-204, 99, 402, 705, 1012]
z_labels = ["0", "−10", "−20", "−30", "−40"]
z_labels_u = [-366, -366, -366, -366, -366]
z_labels_w = [-225, 87, 392, 693, 998]
left_labels = ["400", "200", "0", "−200", "−400"]
left_labels_u = [-430, -180, 116, 295, 565]
left_labels_w = [1065, 1226, 1368, 1503, 1640]
right_labels = ["−200", "0", "200", "400"]
right_labels_u = [852, 1221, 1710, 2146]
right_labels_w = [1650, 1515, 1368, 1230]
axis_corner_back = (-313, 1012)
axis_corner_z = (-313, -204)
axis_corner_front = (705, 1576)
axis_corner_right = (2034, 1148)
cb_b_ticks = [1.4, 1.5, 1.6, 1.7, 1.8, 1.9, 2.0, 2.1]
cb_b_labels = ["1.4", "1.5", "1.6", "1.7", "1.8", "1.9", "2", "2.1"]
cb_b_low, cb_b_high = 1.4, 2.1

# ---------- captions ----------
cap_a_num = "2a."
cap_a_1 = "A mutilated Gaussian signal"
cap_a_2 = "on the MN road network"
cap_b_num = "2b."
cap_b_1 = "Thickness data on a"
cap_b_2 = "dendritic tree"

LAV = "#E8E8F3"
AXFONT = "Liberation Sans"
CAPFONT = "Lato"
CAPSIZE = "70px"
CAPBLUE = "#3A3AB8"
BLACK = "#000000"
CAP_Y1, CAP_Y2 = 891, 983

def jet(n=64):
    out = []
    for i in range(n):
        f = (i + 0.5) / n
        r = np.clip(min(4 * f - 1.5, -4 * f + 4.5), 0, 1)
        g = np.clip(min(4 * f - 0.5, -4 * f + 3.5), 0, 1)
        b = np.clip(min(4 * f + 0.5, -4 * f + 2.5), 0, 1)
        out.append("#%02x%02x%02x" % (int(r * 255), int(g * 255), int(b * 255)))
    return out
JET = jet()

def place(fig, left, top):
    fig.styles = {"position": "absolute", "left": f"{left:.1f}px", "top": f"{top:.1f}px"}
    return fig

# ---------- background and captions ----------
bg = figure(width=2177, height=1016, x_range=Range1d(0, 2177), y_range=Range1d(1016, 0), output_backend="svg", toolbar_location=None,
            x_axis_location=None, y_axis_location=None, frame_align=False,
            min_border=0, background_fill_color=LAV, border_fill_color=LAV, outline_line_color=None)
bg.grid.visible = False
bg.quad(left=[0, 57, 1179], right=[39, 1063, 2177], top=[0, 30, 30], bottom=[1016, 836, 838], color="#FFFFFF", line_color=None)
bg.text(x=[57, 1179], y=[CAP_Y1, CAP_Y1], text=[cap_a_num, cap_b_num], text_font=value(CAPFONT), text_font_size=CAPSIZE, text_color=CAPBLUE, text_baseline="alphabetic")
bg.text(x=[181, 1307, 57, 1179], y=[CAP_Y1, CAP_Y1, CAP_Y2, CAP_Y2], text=[cap_a_1, cap_b_1, cap_a_2, cap_b_2], text_font=value(CAPFONT), text_font_size=CAPSIZE, text_color=BLACK, text_baseline="alphabetic")
place(bg, 0, 0)

# ---------- panel a ----------
FW, FH = 801, 743
ML, MB, MT, MR = 50, 45, 10, 10
a = figure(frame_width=FW, frame_height=FH, width=FW + ML + MR, height=FH + MB + MT, x_range=Range1d(lon_ticks[0], lon_ticks[-1]), y_range=Range1d(lat_ticks[0], lat_ticks[-1]),
           output_backend="svg", toolbar_location=None, min_border_left=ML, min_border_right=MR, min_border_top=MT, min_border_bottom=MB, frame_align=False,
           background_fill_color="#FFFFFF", border_fill_color=None, outline_line_color="#111111", outline_line_width=1.5)
a.grid.visible = False
def style_axis(ax, ticks, size):
    ax.ticker = FixedTicker(ticks=ticks)
    ax.major_tick_in = size
    ax.major_tick_out = 0
    ax.minor_tick_in = 0
    ax.minor_tick_out = 0
    ax.axis_line_color = "#111111"
    ax.major_tick_line_color = "#111111"
    ax.major_label_text_font = AXFONT
    ax.major_label_text_color = BLACK
pad = "\u2007\u2009"
style_axis(a.xaxis[0], lon_ticks, 8)
a.xaxis[0].major_label_overrides = {t: l + pad for t, l in zip(lon_ticks, lon_labels)}
a.xaxis[0].major_label_text_font_size = "25px"
a.xaxis[0].major_label_standoff = 13
style_axis(a.yaxis[0], lat_ticks, 8)
a.yaxis[0].major_label_text_font_size = "25px"
a.yaxis[0].major_label_standoff = 9
# mirrored ticks on the top and right edges of the box
tx = [[t, t] for t in lon_ticks[1:-1]] + [[lon_ticks[-1], lon_ticks[-1] - 0.09] for t in lat_ticks[1:-1]]
ty = [[lat_ticks[-1], lat_ticks[-1] - 0.075] for t in lon_ticks[1:-1]] + [[t, t] for t in lat_ticks[1:-1]]
a.multi_line(xs=tx, ys=ty, line_color="#111111", line_width=1)
a.multi_line(xs=[[q[0] for q in r] for r in roads], ys=[[q[1] for q in r] for r in roads], line_color="#222222", line_width=1.6)
for val, pts in node_groups:
    a.scatter(x=[q[0] for q in pts], y=[q[1] for q in pts], size=15, line_color=None,
              fill_color=JET[int((val - cb_a_low) / (cb_a_high - cb_a_low) * 64)])
place(a, 94.7 - ML, 60 - MT)

def colorbar_fig(low, high, ticks, labels, bar_w, bar_h, size):
    MR2 = 70
    c = figure(frame_width=bar_w, frame_height=bar_h, width=bar_w + MR2 + 4, height=bar_h + 30, x_range=Range1d(0, 1), y_range=Range1d(low, high),
               output_backend="svg", toolbar_location=None, y_axis_location="right", x_axis_location=None, frame_align=False,
               min_border_left=4, min_border_right=MR2, min_border_top=15, min_border_bottom=15,
               background_fill_color=None, border_fill_color=None, outline_line_color="#111111", outline_line_width=1.5)
    c.grid.visible = False
    edges = np.linspace(low, high, 65)
    c.quad(left=0, right=1, bottom=edges[:-1], top=edges[1:], color=JET, line_color=JET, line_width=0.6)
    r = c.yaxis[0]
    style_axis(r, ticks, 5)
    r.major_label_overrides = {t: l for t, l in zip(ticks, labels)}
    r.major_label_text_font_size = size
    r.major_label_standoff = 7
    c.multi_line(xs=[[0, 0.09] for t in ticks], ys=[[t, t] for t in ticks], line_color="#111111", line_width=1)
    return c
cb_a = colorbar_fig(cb_a_low, cb_a_high, cb_a_ticks, cb_a_labels, 55, 743, "25px")
place(cb_a, 937 - 4, 60 - 15)

# ---------- panel b ----------
b = figure(width=998, height=808, x_range=Range1d(-513, 2481), y_range=Range1d(1704, -720), output_backend="svg", toolbar_location=None,
           x_axis_location=None, y_axis_location=None, frame_align=False,
           min_border=0, background_fill_color=None, border_fill_color=None, outline_line_color=None)
b.grid.visible = False
mk = lambda p, s, t: (p[0] + (s[0] - p[0]) * t, p[1] + (s[1] - p[1]) * t)
b.multi_line(xs=[[axis_corner_z[0], axis_corner_back[0], axis_corner_front[0], axis_corner_right[0]]], ys=[[axis_corner_z[1], axis_corner_back[1], axis_corner_front[1], axis_corner_right[1]]], line_color="#333333", line_width=1.3)
tick_xs, tick_ys = [], []
for w in z_ticks_w:
    tick_xs.append([axis_corner_z[0], axis_corner_z[0] - 27]); tick_ys.append([w, w - 10])
for t in np.linspace(0, 1, len(left_labels)):
    q = mk(axis_corner_back, axis_corner_front, t)
    tick_xs.append([q[0], q[0] - 25]); tick_ys.append([q[1], q[1] - 14])
for t in np.linspace(0, 1, len(right_labels)):
    q = mk(axis_corner_front, axis_corner_right, t)
    tick_xs.append([q[0], q[0] + 33]); tick_ys.append([q[1], q[1] + 20])
b.multi_line(xs=tick_xs, ys=tick_ys, line_color="#333333", line_width=1.3)
b.text(x=z_labels_u, y=z_labels_w, text=z_labels, text_font=value(AXFONT), text_font_size="26px", text_align="right", text_baseline="middle", text_color=BLACK)
b.text(x=left_labels_u + right_labels_u, y=left_labels_w + right_labels_w, text=left_labels + right_labels, text_font=value(AXFONT), text_font_size="26px", text_align="center", text_baseline="middle", text_color=BLACK)
for val, pts, sz in dendrite_groups:
    b.scatter(x=[q[0] for q in pts], y=[q[1] for q in pts], size=sz, line_color=None,
              fill_color=JET[min(63, int((val - cb_b_low) / (cb_b_high - cb_b_low) * 64))])
b.multi_line(xs=[[q[0] for q in r] for r in branches], ys=[[q[1] for q in r] for r in branches], line_color=BLACK, line_width=1.4)
place(b, 1179, 30)

cb_b = colorbar_fig(cb_b_low, cb_b_high, cb_b_ticks, cb_b_labels, 57, 735, "26px")
place(cb_b, 2071.5 - 4, 59 - 15)

root = column(bg, a, cb_a, b, cb_b, width=2177, height=1016)
open("out.html", "w").write(file_html(root, INLINE))
